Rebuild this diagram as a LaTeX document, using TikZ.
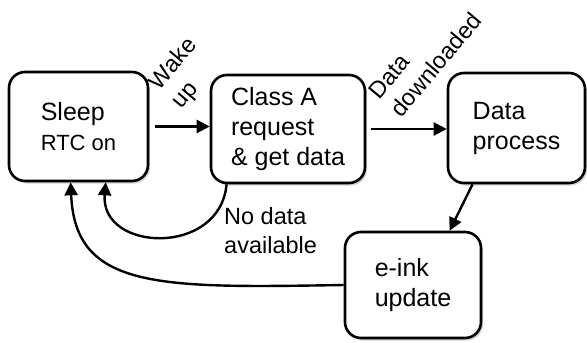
\documentclass[tikz,border=0pt]{standalone}
\usepackage{fontspec}
\setmainfont{Liberation Sans}
\usetikzlibrary{arrows.meta,shadows}

\begin{document}
\begin{tikzpicture}[x=1pt,y=-1pt,
    state/.style={draw,line width=2.6pt,rounded corners=16pt,fill=white,align=left,
      drop shadow={shadow xshift=2pt,shadow yshift=-2.5pt,opacity=0.35},
      font=\fontsize{25}{30}\selectfont},
    trans/.style={line width=2.4pt,-{Triangle[length=13pt,width=13pt]}},
    cond/.style={align=left,font=\fontsize{23.5}{29}\selectfont,inner sep=0pt}]
    \useasboundingbox (0,0) rectangle (587,343);

    \node[state,minimum width=139pt,minimum height=109pt] (sleep) at (78.5,126.5)
      {Sleep\\{\fontsize{22}{26}\selectfont RTC on}};
    \node[state,minimum width=154pt,minimum height=108pt] (classa) at (288,129)
      {Class A\\request\\\& get data};
    \node[state,minimum width=137pt,minimum height=110pt] (proc) at (516.5,128)
      {Data\\process};
    \node[state,minimum width=136pt,minimum height=106pt] (eink) at (413,285)
      {e-ink\\update};

    \draw[trans,shorten <=6pt] (sleep.east) -- (sleep.east -| classa.west);
    \node[cond,rotate=50] (wake) at (185,74) {Wake\\up};
    \draw[trans,shorten <=5pt] (classa.east) -- (classa.east -| proc.west);
    \node[cond,rotate=50] (down) at (425,56) {Data\\downloaded};
    \draw[trans] (proc.232) -- (eink.56);

    \draw[trans] (classa.222) .. controls (220,257) and (100,252) .. (sleep.-64);
    \node[cond,anchor=north west] (nodata) at (224,207) {No data\\available};
    \draw[trans] (eink.west) .. controls (160,288) and (75,290) .. (sleep.262);
\end{tikzpicture}
\end{document}
